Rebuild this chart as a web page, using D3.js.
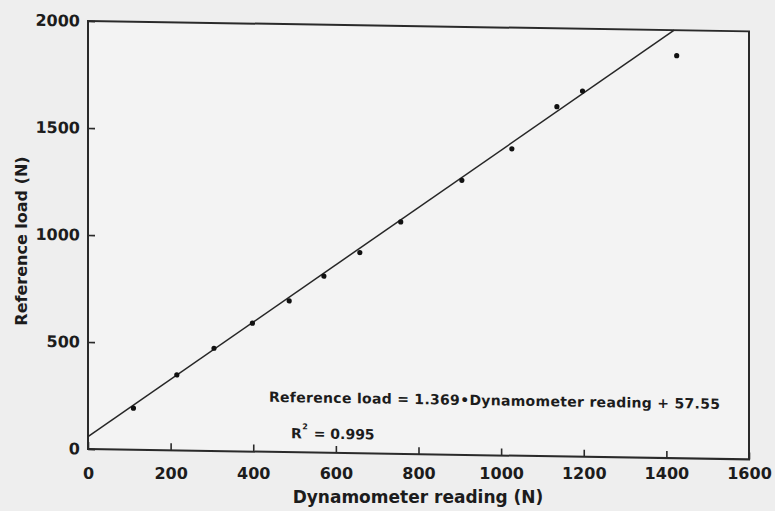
<!DOCTYPE html>
<html>
<head>
<meta charset="utf-8">
<script src="https://cdn.jsdelivr.net/npm/d3@7"></script>
<style>
  body { margin: 0; background: #eeeeee; }
  svg { display: block; }
  .axis text { font-family: "DejaVu Sans", sans-serif; font-weight: bold; font-size: 16px; fill: #1c1c1c; }
  .axis path { display: none; }
  .axis line { stroke: #2a2a2a; stroke-width: 1.6; }
</style>
</head>
<body>
<div id="chart"></div>
<script>
let width = 775;
let height = 511;

// values
let dynamometer = [110, 215, 305, 398, 487, 571, 658, 757, 905, 1026, 1135, 1197, 1425];
let referenceLoad = [194, 353, 480, 600, 707, 825, 938, 1084, 1283, 1434, 1634, 1709, 1881];
let xTicks = [0, 200, 400, 600, 800, 1000, 1200, 1400, 1600];
let yTicks = [0, 500, 1000, 1500, 2000];
let fitSlope = 1.369;
let fitIntercept = 57.55;

let ink = "#1c1c1c";
let font = "'DejaVu Sans', sans-serif";

let svg = d3.select("#chart").append("svg")
	.attr("width", width)
	.attr("height", height);

svg.append("rect")
	.attr("width", width)
	.attr("height", height)
	.attr("fill", "#eeeeee");

let xScale = d3.scaleLinear()
	.domain([0, 1600])
	.range([88, 749]);

let yScale = d3.scaleLinear()
	.domain([0, 2000])
	.range([449, 21]);

// the scan is slightly skewed: horizontal lines drop towards the right
let g = svg.append("g")
	.attr("transform", `translate(88,449) skewY(0.9) translate(-88,-449)`);

g.append("rect")
	.attr("x", xScale(0))
	.attr("y", yScale(2000))
	.attr("width", xScale(1600) - xScale(0))
	.attr("height", yScale(0) - yScale(2000))
	.attr("fill", "#f3f3f3")
	.attr("stroke", "#2a2a2a")
	.attr("stroke-width", 2);

// tick marks follow the skewed frame, labels stay level
g.append("g")
	.attr("class", "axis")
	.attr("transform", `translate(0,${yScale(0)})`)
	.call(d3.axisBottom(xScale)
		.tickValues(xTicks)
		.tickFormat("")
		.tickSizeInner(-7)
		.tickSizeOuter(0));

svg.append("g")
	.attr("class", "axis")
	.attr("transform", `translate(0,${yScale(0)})`)
	.call(d3.axisBottom(xScale)
		.tickValues(xTicks)
		.tickFormat(d3.format("d"))
		.tickSize(0)
		.tickPadding(19));

g.append("g")
	.attr("class", "axis")
	.attr("transform", `translate(${xScale(0)},0)`)
	.call(d3.axisLeft(yScale)
		.tickValues(yTicks)
		.tickFormat(d3.format("d"))
		.tickSizeInner(-7)
		.tickSizeOuter(0)
		.tickPadding(8));

// regression line, clipped at the top of the frame
let xEnd = (2000 - fitIntercept) / fitSlope;
let fitLine = [0, xEnd].map(d => [d, fitSlope * d + fitIntercept]);

g.append("path")
	.datum(fitLine)
	.attr("fill", "none")
	.attr("stroke", "#262626")
	.attr("stroke-width", 1.5)
	.attr("d", d3.line().x(d => xScale(d[0])).y(d => yScale(d[1])));

g.selectAll("circle.pt")
	.data(dynamometer)
	.enter()
	.append("circle")
	.attr("class", "pt")
	.attr("cx", d => xScale(d))
	.attr("cy", (d, i) => yScale(referenceLoad[i]))
	.attr("r", 2.6)
	.attr("fill", "#111");

g.append("text")
	.text("Reference load = 1.369•Dynamometer reading + 57.55")
	.attr("x", 269)
	.attr("y", 399)
	.attr("font-family", font)
	.attr("font-weight", "bold")
	.attr("font-size", 14)
	.attr("letter-spacing", 0.3)
	.attr("fill", ink);

let r2 = g.append("text")
	.attr("x", 291)
	.attr("y", 435)
	.attr("font-family", font)
	.attr("font-weight", "bold")
	.attr("font-size", 14)
	.attr("fill", ink);
r2.append("tspan").text("R");
r2.append("tspan").text("2").attr("font-size", 8).attr("dy", -9).attr("dx", 0.5);
r2.append("tspan").text(" = 0.995").attr("dy", 9).attr("dx", 1);

svg.append("text")
	.text("Dynamometer reading (N)")
	.attr("x", 418)
	.attr("y", 503)
	.attr("text-anchor", "middle")
	.attr("font-family", font)
	.attr("font-weight", "bold")
	.attr("font-size", 17)
	.attr("fill", ink);

svg.append("text")
	.text("Reference load (N)")
	.attr("transform", "translate(27,241) rotate(-90)")
	.attr("text-anchor", "middle")
	.attr("font-family", font)
	.attr("font-weight", "bold")
	.attr("font-size", 16)
	.attr("fill", ink);
</script>
</body>
</html>
